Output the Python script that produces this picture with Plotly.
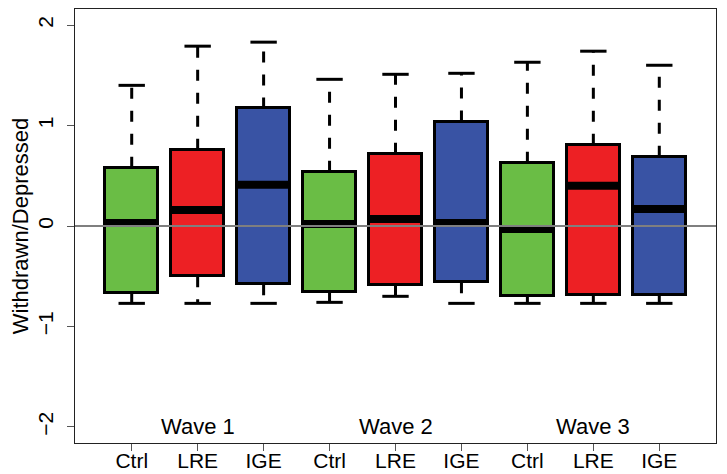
import plotly.graph_objects as go

# ---- data ----
waves = ["Wave 1", "Wave 2", "Wave 3"]
groups = ["Ctrl", "LRE", "IGE"]
group_colors = ["#6ABD45", "#ED2024", "#3953A4"]

upper_whisker = [1.40, 1.79, 1.83, 1.46, 1.51, 1.52, 1.63, 1.74, 1.60]
q3_values     = [0.58, 0.76, 1.17, 0.54, 0.72, 1.04, 0.63, 0.81, 0.69]
median_values = [0.03, 0.16, 0.41, 0.02, 0.07, 0.03, -0.03, 0.40, 0.17]
q1_values     = [-0.67, -0.50, -0.58, -0.66, -0.59, -0.56, -0.70, -0.69, -0.69]
lower_whisker = [-0.77, -0.77, -0.77, -0.76, -0.70, -0.77, -0.77, -0.77, -0.77]

y_ticks = [-2, -1, 0, 1, 2]

# ---- derived layout helpers ----
n = len(median_values)
positions = list(range(1, n + 1))
tick_text = [g for _ in waves for g in groups]
colors = [group_colors[i % len(groups)] for i in range(n)]
BOX_W = 0.8
CAP_HALF = 0.2
FONT = "Liberation Sans, Arial, Helvetica, sans-serif"

fig = go.Figure()

# whiskers (dashed), drawn from the box edge outward
wx, wy = [], []
for p, lo, a, b, hi in zip(positions, lower_whisker, q1_values, q3_values, upper_whisker):
    wx += [p, p, None, p, p, None]
    wy += [b, hi, None, a, lo, None]
fig.add_trace(go.Scatter(x=wx, y=wy, mode="lines",
                         line=dict(color="black", width=3, dash="11px,12px"),
                         hoverinfo="skip", showlegend=False))

# caps
cx, cy = [], []
for p, lo, hi in zip(positions, lower_whisker, upper_whisker):
    cx += [p - CAP_HALF, p + CAP_HALF, None, p - CAP_HALF, p + CAP_HALF, None]
    cy += [hi, hi, None, lo, lo, None]
fig.add_trace(go.Scatter(x=cx, y=cy, mode="lines",
                         line=dict(color="black", width=3),
                         hoverinfo="skip", showlegend=False))

# boxes
fig.add_trace(go.Bar(x=positions,
                     y=[b - a for a, b in zip(q1_values, q3_values)],
                     base=q1_values, width=BOX_W,
                     marker=dict(color=colors, line=dict(color="black", width=3)),
                     hoverinfo="skip", showlegend=False))

# medians
mx, my = [], []
for p, m in zip(positions, median_values):
    mx += [p - BOX_W / 2, p + BOX_W / 2, None]
    my += [m, m, None]
fig.add_trace(go.Scatter(x=mx, y=my, mode="lines",
                         line=dict(color="black", width=8),
                         hoverinfo="skip", showlegend=False))

# zero reference line on top
fig.add_shape(type="line", xref="paper", x0=0, x1=1, yref="y", y0=0, y1=0,
              line=dict(color="#7f7f7f", width=2), layer="above")

# wave labels
for w, name in enumerate(waves):
    fig.add_annotation(x=positions[w * len(groups) + 1], y=-2, text=name,
                       showarrow=False, font=dict(size=22, color="black", family=FONT),
                       xanchor="center", yanchor="middle")

fig.update_layout(
    width=727, height=474,
    margin=dict(l=67, r=19, t=1, b=39),
    paper_bgcolor="white", plot_bgcolor="white",
    font=dict(family=FONT, size=21, color="black"),
    bargap=0,
    xaxis=dict(range=[0.14, 9.86], tickvals=positions, ticktext=tick_text,
               ticks="outside", ticklen=7, tickcolor="#555555", tickwidth=1,
               showline=True, mirror=True, linecolor="#222222", linewidth=1,
               showgrid=False, zeroline=False, automargin=False,
               ticklabelstandoff=-8,
               tickfont=dict(size=21, family=FONT, color="black")),
    yaxis=dict(range=[-2.16, 2.16], tickvals=y_ticks,
               ticks="outside", ticklen=7, tickcolor="#555555", tickwidth=1,
               tickangle=-90, automargin=False, ticklabelstandoff=6,
               showline=True, mirror=True, linecolor="#222222", linewidth=1,
               showgrid=False, zeroline=False,
               tickfont=dict(size=21, family=FONT, color="black")),
)
fig.update_yaxes(title=dict(text="Withdrawn/Depressed", standoff=10,
                            font=dict(size=22, family=FONT, color="black")))

fig.write_html("out.html")
